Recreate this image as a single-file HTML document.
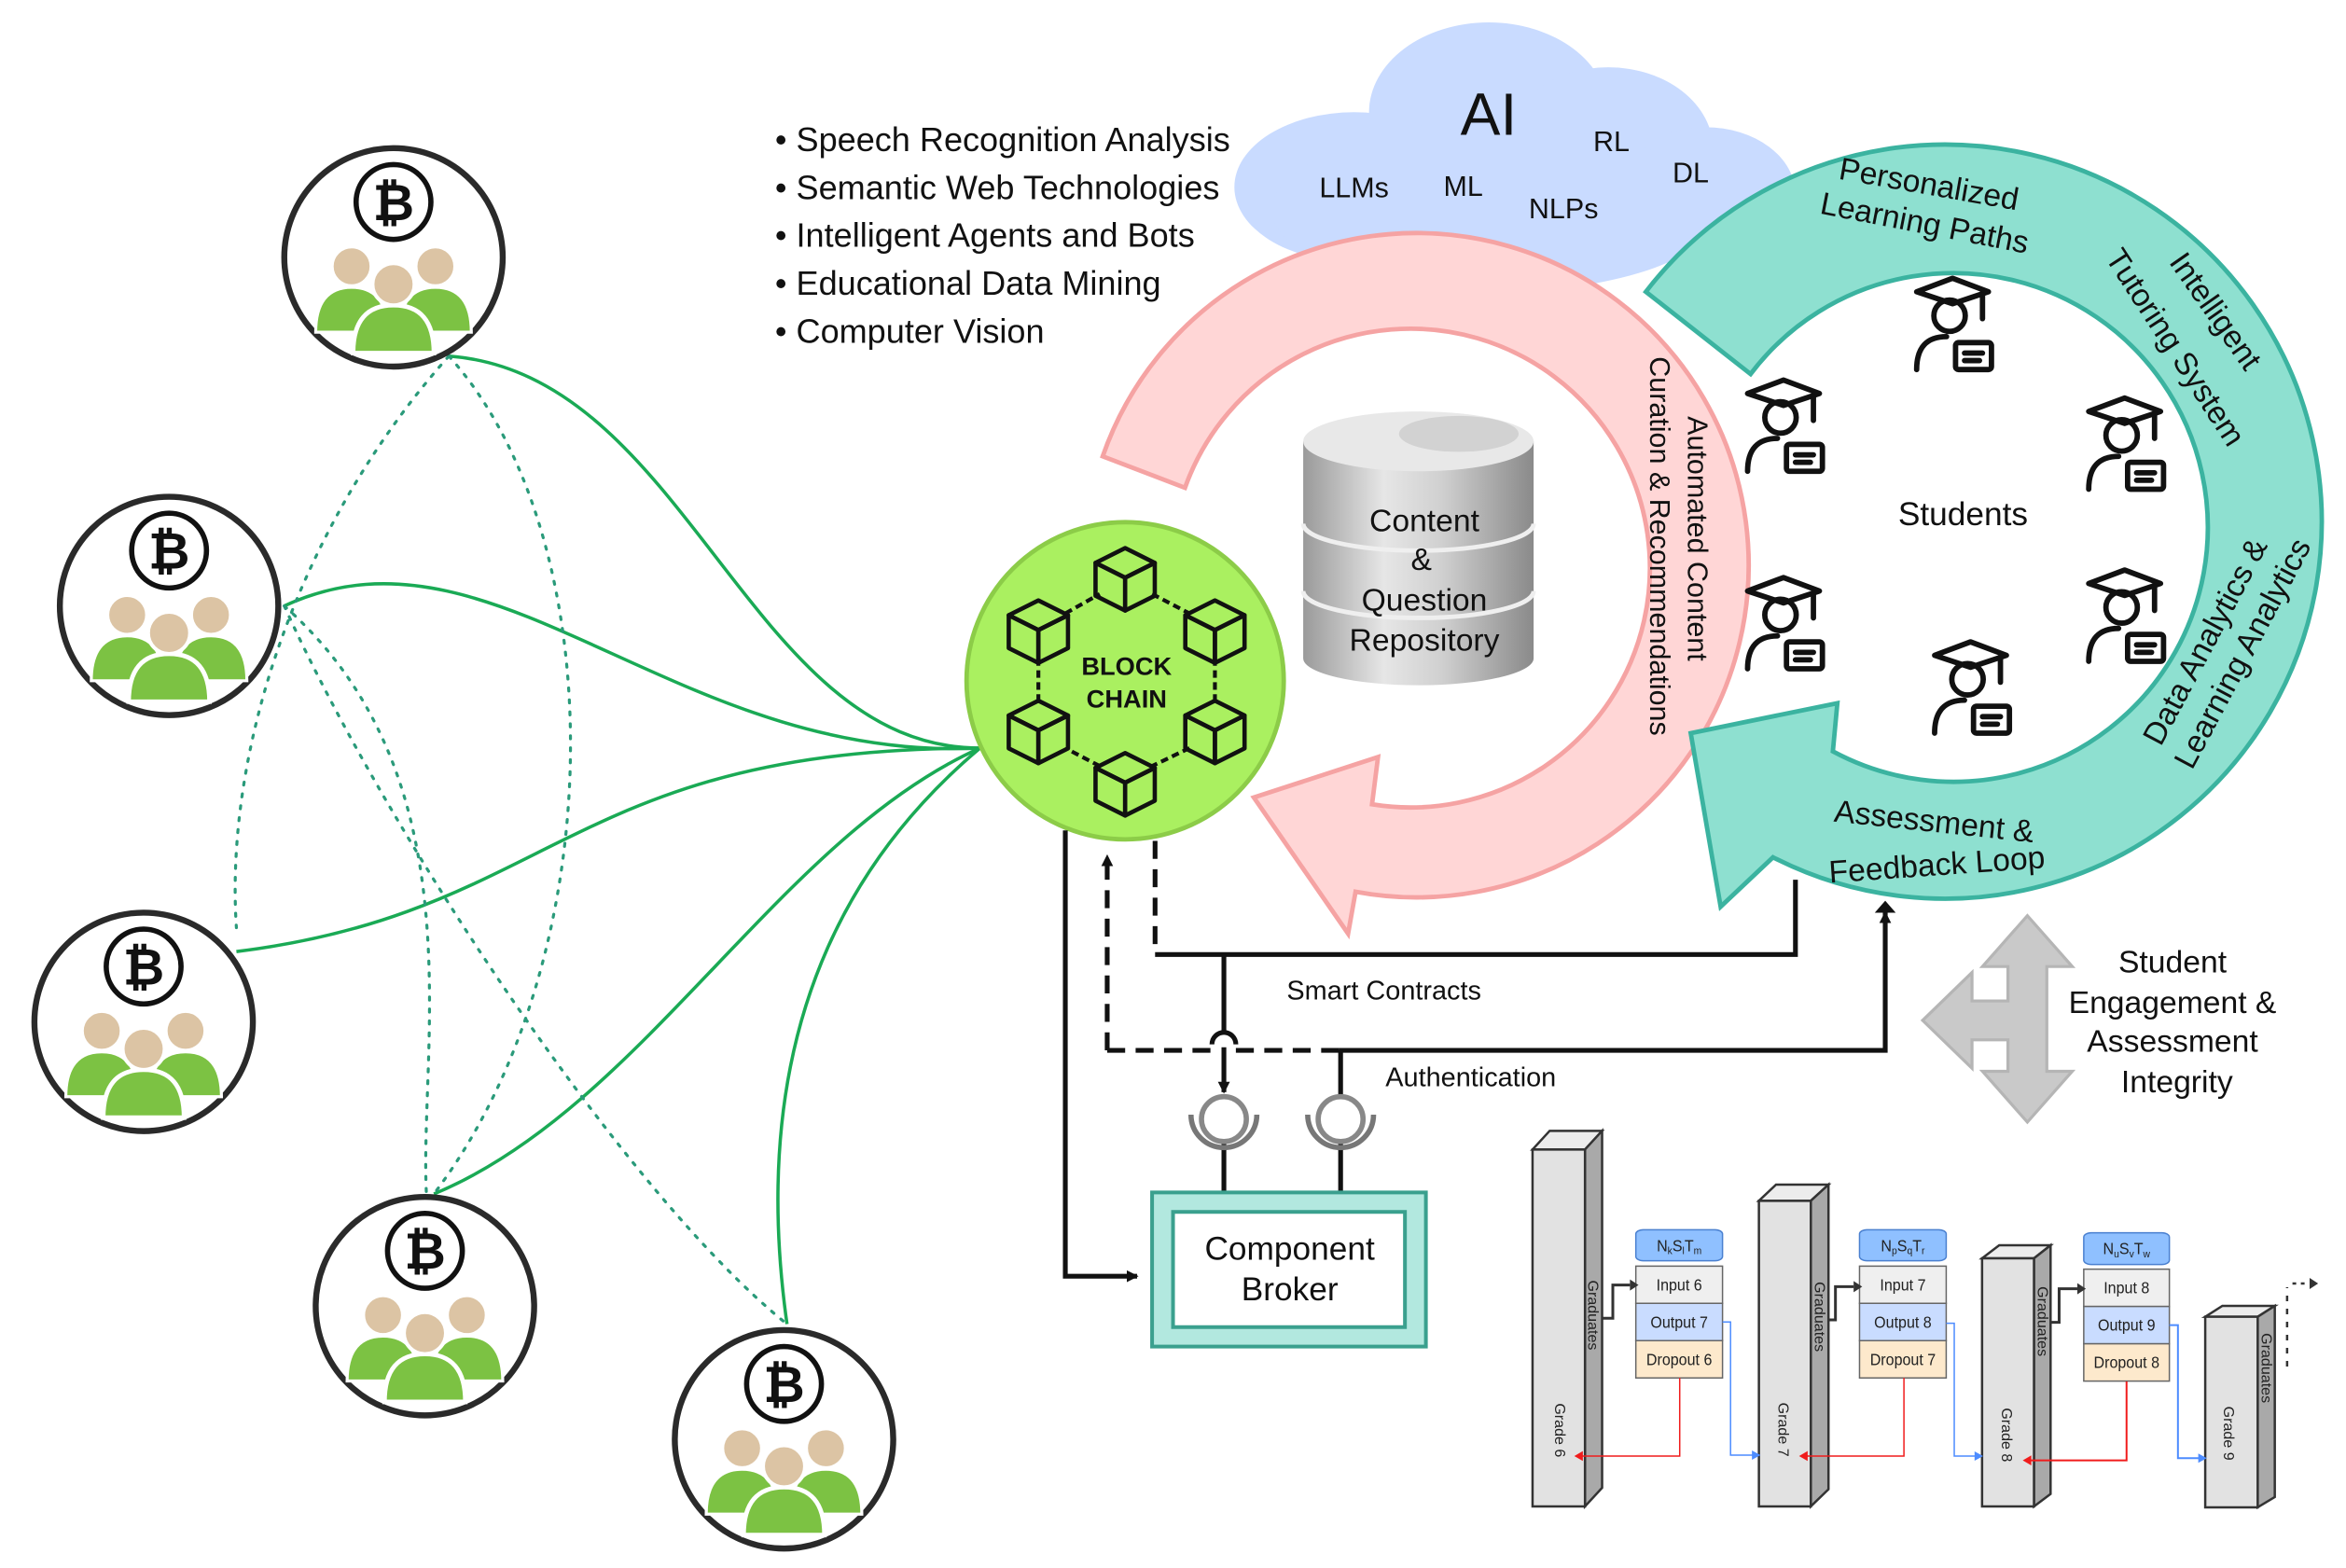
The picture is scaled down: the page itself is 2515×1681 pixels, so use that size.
<!DOCTYPE html>
<html><head><meta charset="utf-8"><style>html,body{margin:0;padding:0;background:#fff}svg{display:block}</style></head>
<body>
<svg width="2515" height="1681" viewBox="0 0 2515 1681" xmlns="http://www.w3.org/2000/svg" font-family="Liberation Sans, Arial, sans-serif">
<defs>
<linearGradient id="cyl" x1="0" x2="1" y1="0" y2="0">
<stop offset="0" stop-color="#9a9a9a"/><stop offset="0.35" stop-color="#e6e6e6"/><stop offset="0.6" stop-color="#d0d0d0"/><stop offset="1" stop-color="#8a8a8a"/></linearGradient>
<symbol id="user" overflow="visible">
<circle cx="0" cy="0" r="73" fill="#fff" stroke="#2a2a2a" stroke-width="4"/>
<circle cx="0" cy="-37" r="25" fill="#fff" stroke="#111" stroke-width="3.5"/>
<text x="0" y="-25" font-size="34" font-weight="bold" text-anchor="middle" fill="#111">₿</text>
<path d="M-52 50 Q-52 20 -28 20 Q-4 20 -4 50 Z" fill="#7cc243" stroke="#fff" stroke-width="2"/>
<path d="M4 50 Q4 20 28 20 Q52 20 52 50 Z" fill="#7cc243" stroke="#fff" stroke-width="2"/>
<circle cx="-28" cy="6" r="13" fill="#dcc4a4" stroke="#fff" stroke-width="2"/>
<circle cx="28" cy="6" r="13" fill="#dcc4a4" stroke="#fff" stroke-width="2"/>
<path d="M-27 64 Q-27 32 0 32 Q27 32 27 64 Z" fill="#7cc243" stroke="#fff" stroke-width="3"/>
<circle cx="0" cy="18" r="14" fill="#dcc4a4" stroke="#fff" stroke-width="2.5"/>
</symbol>
<symbol id="stu" overflow="visible">
<g fill="none" stroke="#111" stroke-width="3.6" stroke-linecap="round" stroke-linejoin="round">
<polygon points="-24,-10 0,-19 24,-10 0,-2"/>
<line x1="20" y1="-8" x2="20" y2="8"/>
<circle cx="-2" cy="6" r="10.5"/>
<path d="M-24 42 Q-24 20 -4 20"/>
<rect x="2" y="24" width="24" height="18" rx="2"/>
<line x1="8" y1="31" x2="20" y2="31"/><line x1="8" y1="36" x2="18" y2="36"/>
</g>
</symbol>
<marker id="ah" markerWidth="8" markerHeight="8" refX="7" refY="4" orient="auto" markerUnits="userSpaceOnUse"><path d="M0 0 L8 4 L0 8 Z" fill="#111"/></marker>
</defs>

<g transform="scale(1.604)">
<!-- cloud -->
<g fill="#c9dbff">
<ellipse cx="995" cy="75" rx="80" ry="60"/>
<ellipse cx="905" cy="125" rx="80" ry="50"/>
<ellipse cx="1075" cy="100" rx="70" ry="55"/>
<ellipse cx="1140" cy="130" rx="60" ry="45"/>
<ellipse cx="1000" cy="140" rx="150" ry="55"/>
</g>
<text x="995" y="90" font-size="40" text-anchor="middle" fill="#111">AI</text>
<g font-size="19" fill="#111" text-anchor="middle">
<text x="1077" y="101">RL</text><text x="1130" y="122">DL</text>
<text x="905" y="132">LLMs</text><text x="978" y="131">ML</text><text x="1045" y="146">NLPs</text>
</g>

<!-- bullets -->
<g font-size="22.5" fill="#111">
<text x="518" y="101">• Speech Recognition Analysis</text>
<text x="518" y="133">• Semantic Web Technologies</text>
<text x="518" y="165">• Intelligent Agents and Bots</text>
<text x="518" y="197">• Educational Data Mining</text>
<text x="518" y="229">• Computer Vision</text>
</g>

<!-- pink ring -->
<path d="M737 305 A222 222 0 1 1 906 596 L901 624 L838 533 L921 506 L917 537.6 A160 160 0 1 0 792 326 Z" fill="#ffd6d6" stroke="#f5a3a3" stroke-width="3"/>
<!-- teal ring -->
<path d="M1100 195 A252 252 0 1 1 1185 573 L1150 606 L1130 490 L1228 470 L1225 502.2 A170 170 0 1 0 1170 250 Z" fill="#8ee0d0" stroke="#3bb3a0" stroke-width="3"/>

<g font-size="19" fill="#111" text-anchor="middle">
<text transform="translate(1128,360) rotate(90)">Automated Content</text>
<text transform="translate(1103,365) rotate(90)">Curation &amp; Recommendations</text>
</g>
<g font-size="21" fill="#111" text-anchor="middle">
<text transform="translate(1288,130) rotate(10)">Personalized</text>
<text transform="translate(1285,156) rotate(11)">Learning Paths</text>
<text transform="translate(1475,212) rotate(55)">Intelligent</text>
<text transform="translate(1448,236) rotate(57)">Tutoring System</text>
<text transform="translate(1480,432) rotate(-62)">Data Analytics &amp;</text>
<text transform="translate(1505,440) rotate(-62)">Learning Analytics</text>
<text transform="translate(1292,556) rotate(6)">Assessment &amp;</text>
<text transform="translate(1295,585) rotate(-4)">Feedback Loop</text>
</g>

<!-- students -->
<use href="#stu" x="1305" y="205"/>
<use href="#stu" x="1192" y="273"/>
<use href="#stu" x="1420" y="285"/>
<use href="#stu" x="1192" y="405"/>
<use href="#stu" x="1420" y="400"/>
<use href="#stu" x="1317" y="448"/>
<text x="1312" y="351" font-size="22" text-anchor="middle" fill="#111">Students</text>

<!-- database -->
<path d="M871 295 L871 440 A77 18 0 0 0 1025 440 L1025 295 Z" fill="url(#cyl)"/>
<path d="M871 350 A77 18 0 0 0 1025 350" fill="none" stroke="#efefef" stroke-width="3"/>
<path d="M871 395 A77 18 0 0 0 1025 395" fill="none" stroke="#efefef" stroke-width="3"/>
<ellipse cx="948" cy="295" rx="77" ry="20" fill="#e8e8e8"/>
<ellipse cx="975" cy="290" rx="40" ry="12" fill="#d2d2d2"/>
<g font-size="21" fill="#111" text-anchor="middle">
<text x="952" y="355">Content</text><text x="950" y="381">&amp;</text>
<text x="952" y="408">Question</text><text x="952" y="435">Repository</text>
</g>

<!-- green lines -->
<g fill="none" stroke="#1aaa55" stroke-width="2.2">
<path d="M300 238 C460 250 500 500 655 500"/>
<path d="M190 405 C330 340 450 510 655 500"/>
<path d="M158 636 C370 610 380 500 655 500"/>
<path d="M290 798 C430 740 520 560 655 500"/>
<path d="M526 885 C500 700 560 580 655 500"/>
</g>
<g fill="none" stroke="#2a9a7a" stroke-width="2" stroke-dasharray="2 6" stroke-linecap="round">
<path d="M300 238 C410 360 410 640 290 798"/>
<path d="M300 238 C200 350 150 500 158 620"/>
<path d="M190 405 C260 560 420 800 526 885"/>
<path d="M190 405 C320 520 280 700 285 798"/>
</g>

<!-- users -->
<use href="#user" x="263" y="172"/>
<use href="#user" x="113" y="405"/>
<use href="#user" x="96" y="683"/>
<use href="#user" x="284" y="873"/>
<use href="#user" x="524" y="962"/>

<!-- blockchain -->
<circle cx="752" cy="455" r="106" fill="#aaf060" stroke="#8ccc48" stroke-width="3"/>
<g fill="none" stroke="#111" stroke-width="2.6" stroke-linejoin="round">
<g transform="translate(752,385) scale(1.1)"><polygon points="-18,-8 0,-17 18,-8 0,1"/><polygon points="-18,-8 0,1 0,21 -18,12"/><polygon points="0,1 18,-8 18,12 0,21"/></g>
<g transform="translate(812,420) scale(1.1)"><polygon points="-18,-8 0,-17 18,-8 0,1"/><polygon points="-18,-8 0,1 0,21 -18,12"/><polygon points="0,1 18,-8 18,12 0,21"/></g>
<g transform="translate(812,487) scale(1.1)"><polygon points="-18,-8 0,-17 18,-8 0,1"/><polygon points="-18,-8 0,1 0,21 -18,12"/><polygon points="0,1 18,-8 18,12 0,21"/></g>
<g transform="translate(752,522) scale(1.1)"><polygon points="-18,-8 0,-17 18,-8 0,1"/><polygon points="-18,-8 0,1 0,21 -18,12"/><polygon points="0,1 18,-8 18,12 0,21"/></g>
<g transform="translate(694,487) scale(1.1)"><polygon points="-18,-8 0,-17 18,-8 0,1"/><polygon points="-18,-8 0,1 0,21 -18,12"/><polygon points="0,1 18,-8 18,12 0,21"/></g>
<g transform="translate(694,420) scale(1.1)"><polygon points="-18,-8 0,-17 18,-8 0,1"/><polygon points="-18,-8 0,1 0,21 -18,12"/><polygon points="0,1 18,-8 18,12 0,21"/></g>
<line x1="770" y1="397" x2="795" y2="410" stroke-dasharray="5 3"/>
<line x1="812" y1="440" x2="812" y2="470" stroke-dasharray="5 3"/>
<line x1="795" y1="500" x2="770" y2="512" stroke-dasharray="5 3"/>
<line x1="735" y1="512" x2="712" y2="500" stroke-dasharray="5 3"/>
<line x1="694" y1="440" x2="694" y2="470" stroke-dasharray="5 3"/>
<line x1="712" y1="410" x2="735" y2="397" stroke-dasharray="5 3"/>
</g>
<g font-size="17" font-weight="bold" fill="#111" text-anchor="middle">
<text x="753" y="451">BLOCK</text><text x="753" y="473">CHAIN</text>
</g>

<!-- connectors -->
<g fill="none" stroke="#111" stroke-width="3.2">
<path d="M712 555 L712 853 L760 853" marker-end="url(#ah)"/>
<path d="M772 562 L772 638" stroke-dasharray="12 7"/>
<path d="M772 638 L1200 638 L1200 588"/>
<path d="M818 638 L818 690"/>
<path d="M810 698 A8 8 0 0 1 826 698"/>
<path d="M818 700 L818 730" marker-end="url(#ah)"/>
<path d="M740 702 L740 572" stroke-dasharray="12 7" marker-end="url(#ah)"/>
<path d="M740 702 L810 702 M826 702 L895 702" stroke-dasharray="12 7"/>
<path d="M895 702 L1260 702 L1260 610" marker-end="url(#ah)"/>
<path d="M896 702 L896 734"/>
<path d="M818 764 L818 797 M896 764 L896 797"/>
</g>
<path d="M1253 610 L1260 602 L1267 610 Z" fill="#111"/>
<g fill="none">
<circle cx="818" cy="748" r="15" stroke="#888" stroke-width="3.5"/>
<circle cx="896" cy="748" r="15" stroke="#888" stroke-width="3.5"/>
<path d="M796 745 A22 22 0 0 0 840 745" stroke="#777" stroke-width="3.5"/>
<path d="M874 745 A22 22 0 0 0 918 745" stroke="#777" stroke-width="3.5"/>
</g>
<text x="860" y="668" font-size="18" fill="#111">Smart Contracts</text>
<text x="926" y="726" font-size="18" fill="#111">Authentication</text>

<!-- component broker -->
<rect x="770" y="797" width="183" height="103" fill="#b2e8df" stroke="#3aa08e" stroke-width="2.5"/>
<rect x="784" y="810" width="155" height="77" fill="#fff" stroke="#3aa08e" stroke-width="2.5"/>
<g font-size="22" fill="#111" text-anchor="middle"><text x="862" y="842">Component</text><text x="862" y="869">Broker</text></g>

<!-- gray arrow -->
<path d="M1355 612 L1385 646 L1368 646 L1368 669 L1368 695 L1368 716 L1385 716 L1355 750 L1325 716 L1342 716 L1342 695 L1318 695 L1318 714 L1285 682 L1318 650 L1318 669 L1342 669 L1342 646 L1325 646 Z" fill="#c9c9c9" stroke="#b5b5b5" stroke-width="2"/>
<g font-size="21" fill="#111" text-anchor="middle">
<text x="1452" y="650">Student</text><text x="1452" y="677">Engagement &amp;</text>
<text x="1452" y="703">Assessment</text><text x="1455" y="730">Integrity</text>
</g>
</g>

<!-- grade chart -->
<g transform="translate(1620,1180) scale(0.5737,0.3333)">
<g stroke="#333" stroke-width="2.5" vector-effect="non-scaling-stroke">
<polygon vector-effect="non-scaling-stroke" points="40,157 72,97 170,97 138,157" fill="#ececec"/><polygon vector-effect="non-scaling-stroke" points="138,157 170,97 170,1245 138,1305" fill="#a9a9a9"/><rect vector-effect="non-scaling-stroke" x="40" y="157" width="98" height="1148" fill="#e2e2e2"/>
<polygon vector-effect="non-scaling-stroke" points="463,322 495,270 593,270 560,322" fill="#ececec"/><polygon vector-effect="non-scaling-stroke" points="560,322 593,270 593,1250 560,1305" fill="#a9a9a9"/><rect vector-effect="non-scaling-stroke" x="463" y="322" width="97" height="983" fill="#e2e2e2"/>
<polygon vector-effect="non-scaling-stroke" points="880,507 912,465 1008,465 977,507" fill="#ececec"/><polygon vector-effect="non-scaling-stroke" points="977,507 1008,465 1008,1265 977,1305" fill="#a9a9a9"/><rect vector-effect="non-scaling-stroke" x="880" y="507" width="97" height="798" fill="#e2e2e2"/>
<polygon vector-effect="non-scaling-stroke" points="1297,695 1329,660 1427,660 1395,695" fill="#ececec"/><polygon vector-effect="non-scaling-stroke" points="1395,695 1427,660 1427,1275 1395,1308" fill="#a9a9a9"/><rect vector-effect="non-scaling-stroke" x="1297" y="695" width="98" height="613" fill="#e2e2e2"/>
</g>
<g font-size="28" fill="#222" text-anchor="middle">
<text transform="translate(144,690) scale(1,1.721) rotate(90)">Graduates</text>
<text transform="translate(567,695) scale(1,1.721) rotate(90)">Graduates</text>
<text transform="translate(984,710) scale(1,1.721) rotate(90)">Graduates</text>
<text transform="translate(1402,860) scale(1,1.721) rotate(90)">Graduates</text>
<text transform="translate(82,1060) scale(1,1.721) rotate(90)">Grade 6</text>
<text transform="translate(499,1058) scale(1,1.721) rotate(90)">Grade 7</text>
<text transform="translate(917,1075) scale(1,1.721) rotate(90)">Grade 8</text>
<text transform="translate(1332,1070) scale(1,1.721) rotate(90)">Grade 9</text>
</g>
<g stroke="#666" stroke-width="1.5">
<rect vector-effect="non-scaling-stroke" x="233" y="415" width="162" height="100" rx="14" fill="#8fc0ff" stroke="#4a80d0"/>
<rect vector-effect="non-scaling-stroke" x="233" y="532" width="162" height="120" fill="#efefef"/><rect vector-effect="non-scaling-stroke" x="233" y="652" width="162" height="120" fill="#c9dcff"/><rect vector-effect="non-scaling-stroke" x="233" y="772" width="162" height="120" fill="#fde9cc"/>
<rect vector-effect="non-scaling-stroke" x="651" y="415" width="162" height="100" rx="14" fill="#8fc0ff" stroke="#4a80d0"/>
<rect vector-effect="non-scaling-stroke" x="651" y="532" width="162" height="120" fill="#efefef"/><rect vector-effect="non-scaling-stroke" x="651" y="652" width="162" height="120" fill="#c9dcff"/><rect vector-effect="non-scaling-stroke" x="651" y="772" width="162" height="120" fill="#fde9cc"/>
<rect vector-effect="non-scaling-stroke" x="1070" y="425" width="160" height="102" rx="14" fill="#8fc0ff" stroke="#4a80d0"/>
<rect vector-effect="non-scaling-stroke" x="1070" y="542" width="160" height="120" fill="#efefef"/><rect vector-effect="non-scaling-stroke" x="1070" y="662" width="160" height="120" fill="#c9dcff"/><rect vector-effect="non-scaling-stroke" x="1070" y="782" width="160" height="120" fill="#fde9cc"/>
</g>
<g font-size="28" fill="#222" text-anchor="middle" font-family="Liberation Sans Narrow, Liberation Sans, sans-serif">
<text transform="translate(314,484) scale(1,1.9)">N<tspan font-size="18" dy="5">k</tspan><tspan dy="-5">S</tspan><tspan font-size="18" dy="5">l</tspan><tspan dy="-5">T</tspan><tspan font-size="18" dy="5">m</tspan></text>
<text transform="translate(314,610) scale(1,1.9)">Input 6</text><text transform="translate(314,730) scale(1,1.9)">Output 7</text><text transform="translate(314,850) scale(1,1.9)">Dropout 6</text>
<text transform="translate(732,484) scale(1,1.9)">N<tspan font-size="18" dy="5">p</tspan><tspan dy="-5">S</tspan><tspan font-size="18" dy="5">q</tspan><tspan dy="-5">T</tspan><tspan font-size="18" dy="5">r</tspan></text>
<text transform="translate(732,610) scale(1,1.9)">Input 7</text><text transform="translate(732,730) scale(1,1.9)">Output 8</text><text transform="translate(732,850) scale(1,1.9)">Dropout 7</text>
<text transform="translate(1150,494) scale(1,1.9)">N<tspan font-size="18" dy="5">u</tspan><tspan dy="-5">S</tspan><tspan font-size="18" dy="5">v</tspan><tspan dy="-5">T</tspan><tspan font-size="18" dy="5">w</tspan></text>
<text transform="translate(1150,620) scale(1,1.9)">Input 8</text><text transform="translate(1150,740) scale(1,1.9)">Output 9</text><text transform="translate(1150,860) scale(1,1.9)">Dropout 8</text>
</g>
<g fill="none">
<path vector-effect="non-scaling-stroke" d="M170 700 L190 700 L190 593 L222 593" stroke="#333" stroke-width="3"/>
<path vector-effect="non-scaling-stroke" d="M593 705 L606 705 L606 598 L640 598" stroke="#333" stroke-width="3"/>
<path vector-effect="non-scaling-stroke" d="M1008 713 L1024 713 L1024 605 L1058 605" stroke="#333" stroke-width="3"/>
<path vector-effect="non-scaling-stroke" d="M395 712 L410 712 L410 1140 L452 1140" stroke="#4d8cff" stroke-width="1.5"/>
<path vector-effect="non-scaling-stroke" d="M813 716 L828 716 L828 1143 L868 1143" stroke="#4d8cff" stroke-width="1.5"/>
<path vector-effect="non-scaling-stroke" d="M1230 722 L1246 722 L1246 1150 L1286 1150" stroke="#4d8cff" stroke-width="2"/>
<path vector-effect="non-scaling-stroke" d="M315 892 L315 1143 L132 1143" stroke="#f01c1c" stroke-width="1.5"/>
<path vector-effect="non-scaling-stroke" d="M734 892 L734 1143 L552 1143" stroke="#f01c1c" stroke-width="1.5"/>
<path vector-effect="non-scaling-stroke" d="M1150 903 L1150 1157 L970 1157" stroke="#f01c1c" stroke-width="2"/>
<path vector-effect="non-scaling-stroke" d="M1450 855 L1450 600" stroke="#333" stroke-width="2.5" stroke-dasharray="6 8"/>
<path vector-effect="non-scaling-stroke" d="M1460 588 L1490 588" stroke="#333" stroke-width="2.5" stroke-dasharray="4 5"/>
</g>
<g>
<path d="M222 575 L238 593 L222 611 Z" fill="#333"/><path d="M640 580 L656 598 L640 616 Z" fill="#333"/><path d="M1058 587 L1074 605 L1058 623 Z" fill="#333"/>
<path d="M450 1125 L466 1140 L450 1155 Z" fill="#4d8cff"/><path d="M866 1128 L882 1143 L866 1158 Z" fill="#4d8cff"/><path d="M1284 1135 L1300 1150 L1284 1165 Z" fill="#4d8cff"/>
<path d="M134 1127 L118 1143 L134 1159 Z" fill="#f01c1c"/><path d="M554 1127 L538 1143 L554 1159 Z" fill="#f01c1c"/><path d="M972 1141 L956 1157 L972 1173 Z" fill="#f01c1c"/>
<path d="M1492 570 L1508 588 L1492 606 Z" fill="#333"/>
</g>
</g>
</svg>
</body></html>
